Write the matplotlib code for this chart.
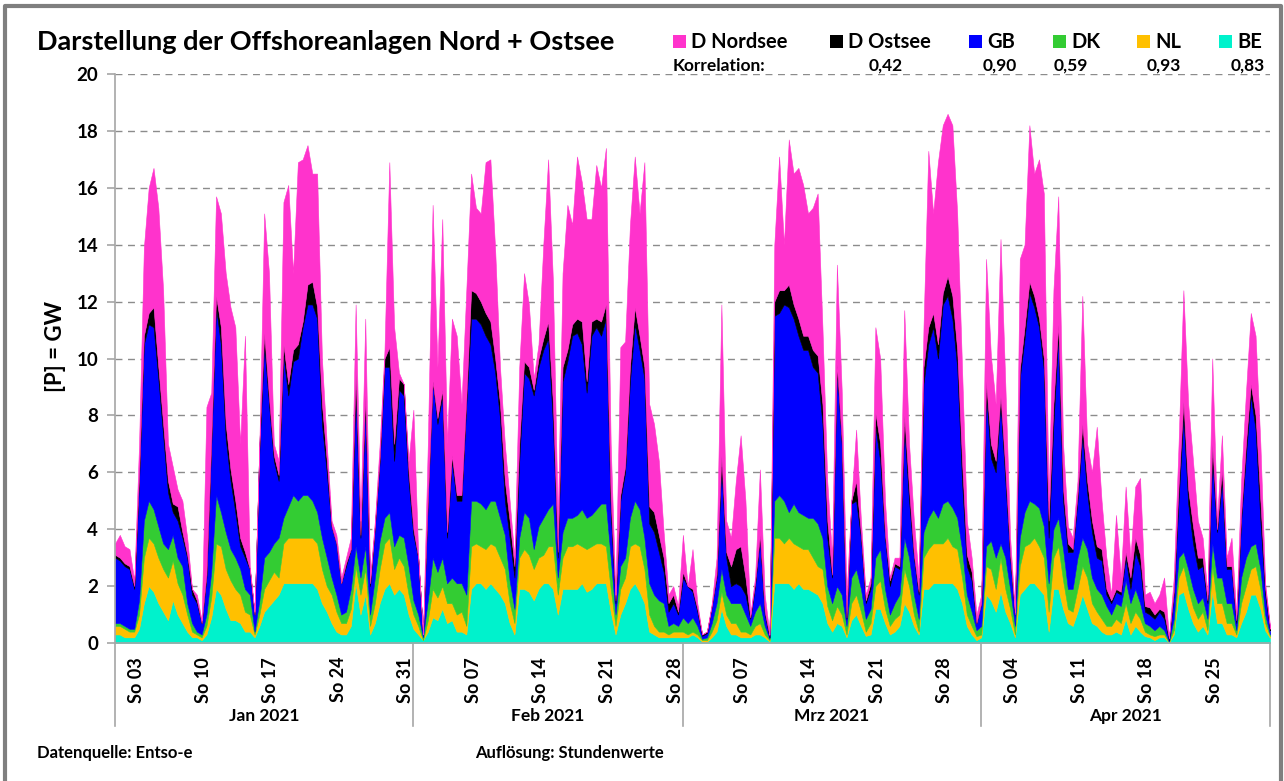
import numpy as np
import pandas as pd
import matplotlib
matplotlib.use("Agg")
import matplotlib.pyplot as plt
from matplotlib.lines import Line2D
from matplotlib.patches import Rectangle

plt.rcParams['font.family'] = ['Lato', 'DejaVu Sans']

# ---------------- data (cumulative stack tops, GW, 12-hour steps from 2021-01-01 00:00) -------------
# top of D Nordsee layer (= total)
top_nordsee = (
    [3.5, 3.8, 3.4, 3.3, 2.2, 7.0, 13.9, 16.0, 16.7, 15.3, 12.4, 7.0, 6.2, 5.4, 5.0, 3.7, 1.9, 1.7, 0.8, 8.3,
     8.8, 15.7, 15.1, 13.0, 11.8, 11.1, 7.0, 10.8, 2.7, 1.1, 7.0, 15.1, 13.0, 7.0, 6.4, 15.5, 16.1, 13.0, 16.9, 17.0,
     17.5, 16.5, 16.5, 10.0, 7.0, 4.3, 3.8, 2.3, 3.0, 3.7, 11.9, 4.3, 11.4, 2.3, 4.3, 7.0, 10.3, 16.9, 11.1, 9.5,
     9.1, 6.4]
    + [8.2, 3.1, 0.3, 7.0, 15.4, 9.7, 14.9, 7.0, 11.4, 10.8, 8.4, 12.4, 16.5, 15.3, 15.1, 16.9, 17.0, 13.8, 9.7, 7.0,
       5.0, 3.0, 9.7, 13.0, 11.9, 9.3, 10.5, 14.0, 17.0, 12.7, 4.3, 13.0, 15.4, 14.7, 17.1, 16.2, 14.9, 14.9, 16.8, 16.0,
       17.4, 7.0, 1.7, 10.4, 10.6, 14.7, 17.1, 15.1, 16.9, 8.4, 7.7, 6.4, 3.9, 1.7, 2.0, 1.3]
    + [3.8, 2.0, 3.3, 1.4, 0.3, 0.4, 1.4, 3.0, 11.9, 4.3, 3.7, 5.7, 7.3, 5.0, 1.0, 2.3, 6.1, 1.7, 0.3, 14.0,
       17.1, 14.0, 17.7, 16.5, 16.7, 16.1, 15.1, 15.3, 15.8, 11.1, 5.7, 3.0, 13.3, 8.9, 1.7, 5.0, 7.5, 4.3, 1.7, 2.3,
       11.1, 10.0, 5.0, 2.3, 3.0, 3.0, 11.7, 7.0, 4.3, 2.3, 11.1, 17.3, 15.1, 16.9, 18.2, 18.6, 18.2, 15.1, 9.7, 4.3,
       3.0, 1.0]
    + [1.7, 13.5, 10.1, 8.4, 14.2, 9.1, 3.7, 1.1, 13.5, 14.0, 18.2, 16.5, 17.0, 15.8, 5.0, 12.4, 15.7, 7.0, 4.1, 3.7,
       5.7, 12.2, 7.0, 6.0, 7.6, 5.0, 3.0, 1.7, 4.5, 2.3, 5.5, 3.0, 5.5, 5.8, 1.7, 1.8, 1.4, 1.7, 2.3, 0.2,
       2.3, 7.0, 12.4, 8.4, 6.4, 4.3, 3.7, 1.7, 10.0, 4.3, 7.3, 3.0, 3.7, 1.0, 5.7, 8.8, 11.6, 10.8, 7.0, 2.1,
       0.6]
)
# top of D Ostsee layer
top_ostsee = (
    [3.1, 3.0, 2.8, 2.7, 2.0, 5.9, 10.8, 11.6, 11.8, 9.7, 7.7, 5.7, 4.9, 4.8, 3.9, 3.1, 1.9, 1.5, 0.7, 2.4,
     7.1, 12.2, 11.1, 7.7, 6.1, 5.0, 3.7, 3.2, 2.6, 1.0, 7.0, 10.9, 8.6, 6.6, 5.9, 10.5, 9.1, 10.3, 10.5, 11.3,
     12.6, 12.7, 11.8, 8.4, 6.4, 4.1, 3.5, 2.1, 2.8, 3.3, 9.5, 3.8, 8.7, 2.1, 4.1, 6.5, 10.0, 10.4, 7.0, 9.3,
     9.1, 6.0]
    + [4.0, 3.0, 0.3, 5.0, 9.2, 7.9, 8.9, 3.9, 6.6, 5.2, 5.2, 8.6, 12.4, 12.3, 12.0, 11.6, 11.3, 10.0, 8.4, 5.7,
       4.3, 2.7, 7.0, 9.9, 9.7, 8.9, 10.0, 10.7, 11.3, 8.4, 3.2, 9.7, 10.3, 11.2, 11.4, 11.3, 9.2, 11.3, 11.4, 11.3,
       11.9, 5.0, 1.5, 5.2, 6.2, 9.7, 11.8, 10.8, 9.7, 4.8, 4.6, 3.8, 3.0, 1.4, 1.7, 1.1]
    + [2.5, 2.0, 1.9, 1.2, 0.3, 0.4, 1.3, 2.4, 6.6, 3.2, 2.7, 3.3, 3.4, 2.3, 0.9, 2.1, 3.8, 1.1, 0.25, 12.0,
       12.4, 12.4, 12.6, 11.9, 11.4, 10.8, 10.8, 10.3, 10.1, 8.4, 4.3, 2.4, 9.8, 7.1, 0.9, 5.0, 5.7, 3.8, 1.5, 2.1,
       8.1, 7.0, 3.8, 2.2, 2.8, 2.7, 8.0, 5.4, 3.1, 1.8, 9.7, 11.1, 11.6, 10.5, 12.3, 12.9, 12.2, 10.3, 6.4, 3.1,
       2.5, 0.7]
    + [1.4, 9.2, 7.0, 6.4, 8.7, 6.1, 3.1, 1.0, 9.6, 11.1, 12.7, 12.2, 11.4, 10.0, 4.3, 8.4, 11.2, 5.4, 3.5, 3.3,
       5.2, 7.7, 5.7, 4.3, 3.4, 3.3, 1.9, 1.5, 1.9, 1.8, 3.2, 2.3, 3.7, 3.1, 1.3, 1.25, 1.0, 1.2, 1.1, 0.15,
       1.8, 5.5, 8.5, 5.4, 4.1, 3.0, 3.0, 1.5, 7.0, 4.0, 6.1, 2.7, 2.7, 0.8, 4.5, 7.0, 9.1, 8.0, 5.0, 1.9,
       0.5]
)
# top of GB layer
top_gb = (
    [3.0, 2.9, 2.7, 2.6, 1.9, 5.7, 10.5, 11.2, 11.1, 9.3, 7.3, 5.3, 4.6, 4.3, 3.7, 3.0, 1.7, 1.4, 0.7, 2.3,
     7.0, 11.8, 10.5, 7.2, 5.7, 4.6, 3.4, 3.0, 2.6, 1.0, 6.8, 10.5, 8.4, 6.4, 5.7, 10.1, 8.7, 9.9, 10.0, 11.1,
     11.9, 11.9, 11.4, 7.7, 6.0, 4.1, 3.5, 2.1, 2.7, 3.3, 8.9, 3.7, 8.4, 2.0, 4.1, 6.4, 9.7, 9.7, 6.4, 8.9,
     8.7, 5.7]
    + [3.8, 3.0, 0.3, 5.0, 9.2, 7.7, 8.7, 3.7, 6.4, 5.0, 5.0, 8.4, 11.4, 11.4, 11.2, 10.8, 10.5, 9.5, 7.9, 5.0,
       3.7, 2.3, 6.4, 9.5, 9.3, 8.7, 9.7, 10.3, 10.7, 7.7, 3.0, 9.2, 9.9, 10.8, 10.9, 10.5, 8.8, 10.8, 11.1, 10.8,
       11.4, 4.6, 1.4, 5.0, 6.0, 9.2, 11.2, 10.3, 9.3, 4.2, 3.9, 3.2, 2.5, 1.1, 1.4, 1.0]
    + [2.3, 2.0, 1.8, 1.1, 0.25, 0.35, 1.3, 2.3, 6.2, 3.0, 2.0, 2.1, 2.0, 1.7, 0.85, 2.0, 3.7, 1.0, 0.2, 11.5,
       11.6, 11.9, 11.8, 11.4, 10.8, 10.3, 10.3, 9.7, 9.5, 7.7, 3.7, 2.3, 9.7, 7.0, 0.85, 4.9, 5.0, 3.7, 1.4, 1.9,
       7.6, 6.4, 3.7, 2.0, 2.7, 2.6, 7.6, 5.0, 3.0, 1.7, 9.1, 10.5, 11.1, 10.0, 11.9, 12.2, 11.4, 9.7, 5.7, 2.7,
       2.2, 0.7]
    + [1.4, 8.8, 6.5, 6.0, 8.4, 5.7, 3.0, 1.0, 9.3, 10.7, 12.3, 11.8, 11.1, 9.6, 3.7, 7.7, 10.8, 5.0, 3.2, 3.2,
       5.0, 7.3, 5.3, 3.9, 3.0, 2.9, 1.7, 1.4, 1.8, 1.7, 3.0, 1.9, 3.2, 2.7, 1.1, 1.0, 0.85, 1.1, 0.85, 0.1,
       1.7, 5.0, 8.0, 4.9, 3.5, 2.6, 2.7, 1.4, 6.5, 3.9, 5.7, 2.6, 2.6, 0.7, 4.3, 6.6, 8.7, 7.5, 4.3, 1.7,
       0.44]
)
# top of DK layer
top_dk = (
    [0.7, 0.7, 0.6, 0.5, 0.5, 1.5, 4.3, 5.0, 4.7, 4.1, 3.5, 3.3, 3.8, 3.0, 2.7, 1.4, 0.7, 0.4, 0.3, 1.0,
     2.5, 5.2, 4.6, 3.9, 3.3, 3.0, 2.6, 1.9, 1.7, 0.4, 1.5, 3.0, 3.2, 3.5, 3.7, 4.4, 4.8, 5.2, 5.0, 5.2,
     5.2, 5.0, 4.6, 3.7, 3.0, 2.3, 1.7, 1.0, 1.1, 1.9, 3.4, 2.3, 3.4, 1.0, 2.3, 3.6, 4.4, 4.6, 3.4, 3.8,
     3.7, 2.7]
    + [1.5, 1.0, 0.2, 1.5, 3.0, 2.5, 3.0, 2.1, 2.3, 2.1, 2.1, 1.7, 5.0, 5.0, 4.9, 4.7, 5.0, 5.0, 4.4, 3.8,
       2.2, 1.2, 3.7, 4.6, 4.4, 3.3, 4.1, 4.4, 4.7, 4.9, 2.3, 3.9, 4.4, 4.4, 4.5, 4.7, 4.4, 4.5, 4.7, 4.9,
       4.9, 3.0, 1.0, 2.7, 3.0, 4.4, 5.0, 4.7, 3.7, 2.1, 1.7, 1.5, 1.4, 0.6, 0.7, 0.6]
    + [0.9, 0.7, 0.9, 0.6, 0.15, 0.2, 0.7, 1.4, 2.6, 1.7, 1.4, 1.4, 1.4, 1.0, 0.6, 1.1, 1.4, 0.6, 0.15, 5.0,
       5.2, 5.0, 4.6, 4.9, 4.6, 4.5, 4.4, 4.4, 4.2, 3.7, 2.0, 1.4, 2.0, 1.7, 0.6, 2.3, 2.6, 1.9, 0.85, 1.2,
       3.0, 3.3, 1.9, 1.0, 1.4, 1.7, 3.7, 3.0, 1.7, 0.85, 3.9, 4.4, 4.7, 4.4, 4.9, 5.0, 4.75, 4.4, 3.3, 1.7,
       1.1, 0.45]
    + [0.6, 3.4, 3.6, 3.0, 3.5, 3.0, 1.9, 0.6, 3.7, 4.6, 5.0, 4.9, 4.75, 4.1, 2.1, 4.0, 4.4, 3.3, 1.9, 1.9,
       3.0, 3.7, 3.3, 2.3, 1.9, 1.7, 1.3, 1.0, 1.4, 1.3, 2.2, 1.4, 1.9, 1.4, 0.7, 0.6, 0.45, 0.6, 0.45, 0.05,
       0.85, 3.0, 3.2, 2.6, 1.9, 1.4, 1.6, 0.85, 3.5, 2.3, 2.3, 1.4, 1.4, 0.45, 2.3, 3.0, 3.4, 3.5, 2.6, 1.0,
       0.3]
)
# top of NL layer
top_nl = (
    [0.6, 0.6, 0.5, 0.4, 0.4, 1.0, 3.0, 3.7, 3.5, 3.0, 2.6, 2.3, 2.9, 2.1, 1.7, 1.0, 0.4, 0.3, 0.2, 0.6,
     1.6, 3.5, 3.4, 2.6, 2.2, 1.9, 1.7, 1.1, 1.0, 0.3, 1.0, 1.9, 2.2, 2.5, 2.3, 3.5, 3.7, 3.7, 3.7, 3.7,
     3.7, 3.7, 3.5, 2.6, 2.0, 1.7, 1.1, 0.7, 0.7, 1.2, 2.7, 1.7, 2.6, 0.6, 1.4, 2.6, 3.5, 3.7, 2.6, 3.0,
     2.7, 1.7]
    + [1.0, 0.6, 0.1, 0.8, 1.9, 1.6, 2.0, 1.4, 1.4, 1.0, 1.1, 0.6, 3.4, 3.5, 3.4, 3.3, 3.5, 3.4, 3.0, 2.6,
       1.4, 0.7, 3.0, 3.3, 3.1, 2.6, 3.0, 3.1, 3.4, 3.4, 1.7, 3.0, 3.4, 3.4, 3.5, 3.4, 3.3, 3.4, 3.5, 3.5,
       3.4, 1.9, 0.6, 1.9, 2.3, 3.4, 3.5, 3.4, 2.6, 1.0, 0.6, 0.4, 0.4, 0.3, 0.4, 0.4]
    + [0.4, 0.3, 0.4, 0.3, 0.1, 0.1, 0.4, 0.8, 1.8, 1.0, 0.7, 0.7, 0.4, 0.4, 0.3, 0.6, 0.7, 0.3, 0.1, 3.7,
       3.7, 3.5, 3.7, 3.5, 3.4, 3.3, 3.3, 3.0, 2.7, 2.6, 1.3, 0.8, 1.3, 1.0, 0.3, 1.4, 1.7, 1.1, 0.4, 0.7,
       2.0, 2.2, 1.2, 0.6, 0.85, 1.0, 2.6, 2.0, 1.0, 0.4, 3.0, 3.3, 3.5, 3.5, 3.5, 3.7, 3.4, 3.3, 2.3, 1.0,
       0.6, 0.24]
    + [0.3, 2.7, 2.6, 1.9, 3.0, 1.9, 1.2, 0.3, 2.7, 3.4, 3.5, 3.7, 3.4, 3.0, 1.1, 3.0, 3.4, 2.2, 1.2, 1.1,
       1.9, 2.7, 2.3, 1.4, 1.1, 0.85, 0.6, 0.6, 0.85, 0.7, 1.4, 0.7, 1.1, 0.85, 0.4, 0.3, 0.24, 0.3, 0.3, 0.03,
       0.45, 2.3, 2.7, 1.9, 1.25, 0.85, 1.1, 0.45, 2.7, 1.4, 1.4, 0.7, 0.7, 0.3, 1.4, 2.0, 2.6, 2.7, 1.9, 0.7,
       0.24]
)
# top of BE layer (= BE itself)
top_be = (
    [0.3, 0.3, 0.2, 0.2, 0.2, 0.5, 1.4, 2.0, 1.8, 1.4, 1.1, 0.8, 1.5, 1.0, 0.7, 0.4, 0.2, 0.2, 0.1, 0.3,
     0.9, 1.9, 1.7, 1.2, 0.8, 0.8, 0.7, 0.4, 0.4, 0.2, 0.6, 1.1, 1.3, 1.5, 1.7, 2.1, 2.1, 2.1, 2.1, 2.1,
     2.1, 2.1, 1.9, 1.4, 1.1, 0.7, 0.4, 0.3, 0.3, 0.6, 2.1, 1.0, 1.7, 0.3, 0.7, 1.4, 1.9, 2.1, 1.7, 1.9,
     1.7, 1.0]
    + [0.5, 0.3, 0.1, 0.4, 0.9, 0.8, 1.2, 0.7, 0.8, 0.4, 0.4, 0.3, 1.9, 2.1, 2.1, 1.9, 2.1, 1.9, 1.7, 1.4,
       0.7, 0.3, 1.9, 1.9, 1.8, 1.5, 1.9, 2.1, 2.1, 1.9, 1.0, 1.9, 1.9, 1.9, 1.9, 2.1, 1.8, 1.9, 2.1, 2.1,
       2.1, 1.1, 0.3, 1.0, 1.4, 1.9, 2.1, 1.8, 1.4, 0.4, 0.3, 0.2, 0.2, 0.2, 0.2, 0.2]
    + [0.2, 0.2, 0.3, 0.2, 0.05, 0.05, 0.2, 0.4, 1.2, 0.6, 0.3, 0.3, 0.2, 0.2, 0.2, 0.3, 0.3, 0.2, 0.05, 2.1,
       2.1, 2.1, 2.1, 1.9, 2.1, 1.9, 1.9, 1.8, 1.7, 1.4, 0.7, 0.4, 0.7, 0.6, 0.2, 0.8, 1.0, 0.6, 0.25, 0.3,
       1.2, 1.2, 0.7, 0.3, 0.4, 0.6, 1.4, 1.1, 0.6, 0.3, 1.9, 1.9, 2.1, 2.1, 2.1, 2.1, 2.1, 1.9, 1.4, 0.6,
       0.3, 0.1]
    + [0.2, 1.7, 1.5, 1.1, 1.8, 1.1, 0.7, 0.2, 1.7, 1.9, 2.1, 2.1, 1.9, 1.7, 0.4, 1.9, 1.9, 1.2, 0.7, 0.6,
       1.1, 1.7, 1.2, 0.7, 0.6, 0.4, 0.3, 0.3, 0.4, 0.3, 0.85, 0.3, 0.6, 0.4, 0.24, 0.2, 0.1, 0.2, 0.2, 0.02,
       0.3, 1.7, 1.8, 1.2, 0.7, 0.4, 0.6, 0.3, 1.8, 0.7, 0.7, 0.3, 0.3, 0.2, 0.7, 1.1, 1.7, 1.7, 1.2, 0.44,
       0.18]
)

series_names = ['BE', 'NL', 'DK', 'GB', 'D Ostsee', 'D Nordsee']
legend_order = ['D Nordsee', 'D Ostsee', 'GB', 'DK', 'NL', 'BE']
korrelation = {'D Ostsee': '0,42', 'GB': '0,90', 'DK': '0,59', 'NL': '0,93', 'BE': '0,83'}
months = ['Jan 2021', 'Feb 2021', 'Mrz 2021', 'Apr 2021']
month_days = [31, 28, 31, 30]
start_date = '2021-01-01'
sunday_labels = ['So 03', 'So 10', 'So 17', 'So 24', 'So 31', 'So 07', 'So 14', 'So 21', 'So 28',
                 'So 07', 'So 14', 'So 21', 'So 28', 'So 04', 'So 11', 'So 18', 'So 25']

colors = {'BE': '#00F2CC', 'NL': '#FFC000', 'DK': '#33CC33', 'GB': '#0000FF',
          'D Ostsee': '#000000', 'D Nordsee': '#FF33CC'}

# ---------------- derive layers ----------------
tops = [np.array(a, dtype=float) for a in (top_be, top_nl, top_dk, top_gb, top_ostsee, top_nordsee)]
layers = []
prev = np.zeros_like(tops[0])
for t in tops:
    layers.append(np.clip(t - prev, 0, None))
    prev = np.maximum(prev, t)
x = np.arange(len(tops[0])) * 0.5  # days since start

# ---------------- figure ----------------
W, H = 1284, 781
fig = plt.figure(figsize=(W / 100, H / 100), dpi=100)
ax = fig.add_axes([115 / W, 1 - 643 / H, (1270 - 115) / W, (643 - 74) / H])

base = np.zeros_like(x)
for name, lay in zip(series_names, layers):
    ax.fill_between(x, base, base + lay, color=colors[name], lw=0.4, edgecolor=colors[name], zorder=2)
    base = base + lay

total_days = sum(month_days)
ax.set_xlim(0, total_days)
ax.set_ylim(0, 20)
ax.set_yticks(np.arange(0, 21, 2))
ax.yaxis.grid(True, linestyle=(0, (5, 4)), color='#8c8c8c', lw=1.0, zorder=0)
ax.set_axisbelow(True)
for s in ['top', 'right']:
    ax.spines[s].set_visible(False)
for s in ['left', 'bottom']:
    ax.spines[s].set_color('#a6a6a6')
    ax.spines[s].set_linewidth(1.2)
ax.tick_params(axis='y', length=6, color='#a6a6a6', width=1.2, pad=6, labelsize=13.5)
for lab in ax.get_yticklabels():
    lab.set_fontweight('bold')

# sundays
dates = pd.date_range(start_date, periods=total_days, freq='D')
sundays = [(d - dates[0]).days for d in dates if d.dayofweek == 6]
ax.set_xticks(np.array(sundays) + 0.2)
ax.set_xticklabels(sunday_labels, rotation=90, fontsize=13, fontweight='bold')
ax.tick_params(axis='x', length=0, pad=10)

# month separators and labels
bounds = np.concatenate([[0], np.cumsum(month_days)])
for b in bounds:
    ax.plot([b, b], [0, -0.145], transform=ax.get_xaxis_transform(), color='#a6a6a6',
            lw=1.2, clip_on=False, zorder=1)
for i, m in enumerate(months):
    ax.text((bounds[i] + bounds[i + 1]) / 2, -0.128, m, transform=ax.get_xaxis_transform(),
            ha='center', va='center', fontsize=12.5, fontweight='bold')

# y label
fig.text(55 / W, 1 - 347 / H, '[P] = GW', rotation=90, ha='center', va='center',
         fontsize=16, fontweight='bold')

# title
fig.text(37 / W, 1 - 42 / H, 'Darstellung der Offshoreanlagen Nord + Ostsee', ha='left', va='center',
         fontsize=19.5, fontweight='bold')

# legend
sq_x = [673, 830, 969, 1053, 1137, 1219]
for name, sx in zip(legend_order, sq_x):
    fig.add_artist(Rectangle((sx / W, 1 - 48 / H), 13 / W, 13 / H, transform=fig.transFigure,
                             facecolor=colors[name], edgecolor='none'))
    fig.text((sx + 18) / W, 1 - 42 / H, name, ha='left', va='center', fontsize=14.5, fontweight='bold')

fig.text(673 / W, 1 - 66 / H, 'Korrelation:', ha='left', va='center', fontsize=12.5, fontweight='bold')
corr_x = [903, 1017, 1088, 1181, 1265]
for name, cx in zip(legend_order[1:], corr_x):
    fig.text(cx / W, 1 - 66 / H, korrelation[name], ha='right', va='center', fontsize=12.5, fontweight='bold')

# footer
fig.text(37 / W, 1 - 753 / H, 'Datenquelle: Entso-e', ha='left', va='center', fontsize=12, fontweight='bold')
fig.text(475 / W, 1 - 753 / H, 'Auflösung: Stundenwerte', ha='left', va='center', fontsize=12,
         fontweight='bold')

# outer frame
fig.add_artist(Line2D([5 / W, 5 / W, 1281 / W, 1281 / W], [0, 1 - 6 / H, 1 - 6 / H, 0],
                      transform=fig.transFigure, color='#7f7f7f', lw=3))

fig.savefig('out.png', dpi=100)
